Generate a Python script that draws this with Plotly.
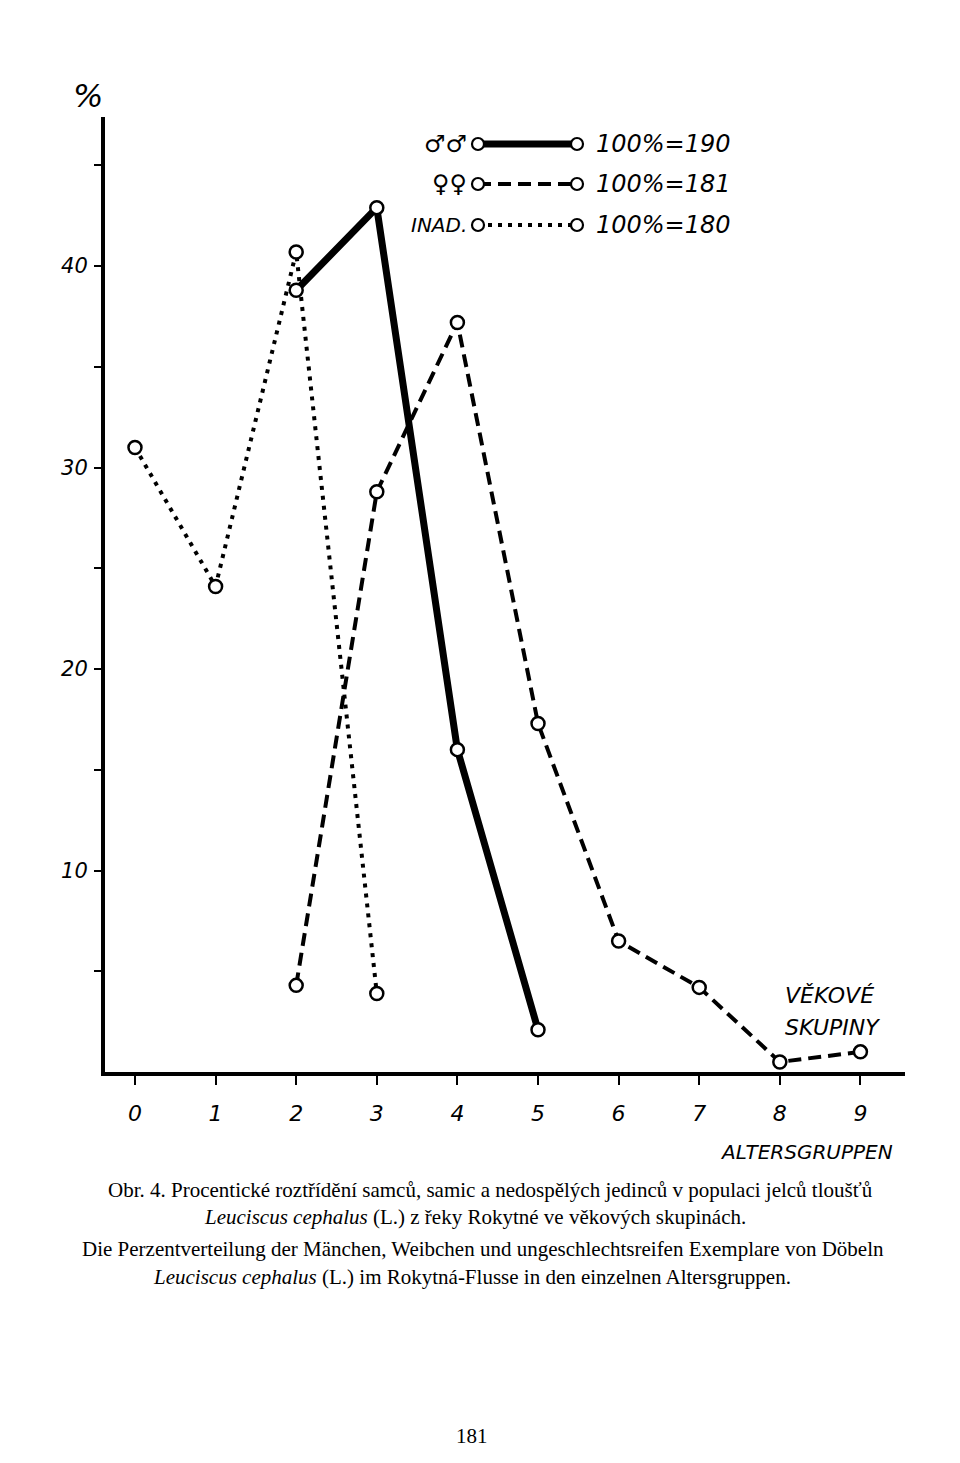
import plotly.graph_objects as go

# age groups (x) and percentages
age_groups = [0, 1, 2, 3, 4, 5, 6, 7, 8, 9]

male_x = [2, 3, 4, 5]
male_pct = [38.8, 42.9, 16.0, 2.1]

female_x = [2, 3, 4, 5, 6, 7, 8, 9]
female_pct = [4.3, 28.8, 37.2, 17.3, 6.5, 4.2, 0.5, 1.0]

juv_x = [0, 1, 2, 3]
juv_pct = [31.0, 24.1, 40.7, 3.9]

y_major = [10, 20, 30, 40]
y_minor = [5, 15, 25, 35, 45]

legend_signs = ["♂♂", "♀♀", "INAD."]
legend_totals = ["100%=190", "100%=181", "100%=180"]

caption = [
    "Obr. 4. Procentické roztřídění samců, samic a nedospělých jedinců v populaci jelců tloušťů",
    "<i>Leuciscus cephalus</i> (L.) z řeky Rokytné ve věkových skupinách.",
    "Die Perzentverteilung der Mänchen, Weibchen und ungeschlechtsreifen Exemplare von Döbeln",
    "<i>Leuciscus cephalus</i> (L.) im Rokytná-Flusse in den einzelnen Altersgruppen.",
]

# plot area in page pixels
L, T, W, H = 105, 117, 800, 955
OFF = 8  # body margin of the html page
FIG_W, FIG_H = 960 - OFF, 1463 - OFF


def px(x):
    return (x - L) / W


def py(y):
    return (T + H - y) / H


hand = dict(family="DejaVu Sans", style="italic", color="black")
serif = dict(family="Liberation Serif", color="black", size=21)

styles = [
    ("solid", 7),
    ("13px,7px", 4),
    ("4px,6px", 4),
]

fig = go.Figure()

series = [(male_x, male_pct), (female_x, female_pct), (juv_x, juv_pct)]

# lines first
for (xs, ys), (dash, w) in zip(series, styles):
    fig.add_trace(go.Scatter(x=xs, y=ys, mode="lines",
                             line=dict(color="black", width=w, dash=dash),
                             showlegend=False, hoverinfo="skip"))
# open circles on top
for xs, ys in series:
    fig.add_trace(go.Scatter(x=xs, y=ys, mode="markers",
                             marker=dict(symbol="circle", size=13, color="white",
                                         line=dict(color="black", width=2.5)),
                             showlegend=False))

shapes = []
annotations = []

# hand drawn legend
row_y = [144, 184, 225]
for sign, total, y, (dash, w) in zip(legend_signs, legend_totals, row_y, styles):
    shapes.append(dict(type="line", xref="paper", yref="paper",
                       x0=px(478), x1=px(577), y0=py(y), y1=py(y),
                       line=dict(color="black", width=w, dash=dash)))
    for cx in (478, 577):
        shapes.append(dict(type="circle", xref="paper", yref="paper",
                           xsizemode="pixel", ysizemode="pixel",
                           xanchor=px(cx), yanchor=py(y),
                           x0=-6, x1=6, y0=-6, y1=6,
                           fillcolor="white", line=dict(color="black", width=2.2)))
    annotations.append(dict(text=sign, x=px(469), y=py(y), xanchor="right",
                            font=dict(hand, size=24 if sign[0] != "I" else 20)))
    annotations.append(dict(text=total, x=px(594), y=py(y), xanchor="left",
                            font=dict(hand, size=24)))

annotations += [
    dict(text="%", x=px(88), y=py(96), font=dict(hand, size=32)),
    dict(text="VĚKOVÉ", x=px(783), y=py(995), xanchor="left", font=dict(hand, size=22)),
    dict(text="SKUPINY", x=px(783), y=py(1027), xanchor="left", font=dict(hand, size=22)),
    dict(text="ALTERSGRUPPEN", x=px(806), y=py(1152), font=dict(hand, size=20)),
    dict(text="181", x=px(472), y=py(1436), font=dict(serif, size=21)),
]
for line, cx, cy in zip(caption, [490, 475, 483, 472], [1190, 1217, 1249, 1277]):
    annotations.append(dict(text=line, x=px(cx), y=py(cy), font=serif))

for a in annotations:
    a.update(xref="paper", yref="paper", showarrow=False)
    a.setdefault("xanchor", "center")
    a.setdefault("yanchor", "middle")

fig.update_layout(
    width=FIG_W, height=FIG_H,
    margin=dict(l=L - OFF, t=T - OFF, r=FIG_W - (L - OFF) - W,
                b=FIG_H - (T - OFF) - H, pad=0),
    paper_bgcolor="white", plot_bgcolor="white",
    showlegend=False,
    shapes=shapes, annotations=annotations,
)

fig.update_xaxes(range=[-0.372, 9.553], tickvals=age_groups,
                 ticktext=[str(a) for a in age_groups],
                 showline=True, linewidth=4, linecolor="black",
                 ticks="outside", ticklen=9, tickwidth=2, tickcolor="black",
                 ticklabelstandoff=10, tickfont=dict(hand, size=22),
                 showgrid=False, zeroline=False)
fig.update_yaxes(range=[0, 47.4], tickvals=y_major,
                 ticktext=[str(v) for v in y_major],
                 showline=True, linewidth=4, linecolor="black",
                 ticks="outside", ticklen=7, tickwidth=2, tickcolor="black",
                 ticklabelstandoff=2, tickfont=dict(hand, size=21),
                 minor=dict(tickvals=y_minor, ticks="outside", ticklen=7,
                            tickwidth=2, tickcolor="black"),
                 showgrid=False, zeroline=False)

fig.write_html("out.html")
